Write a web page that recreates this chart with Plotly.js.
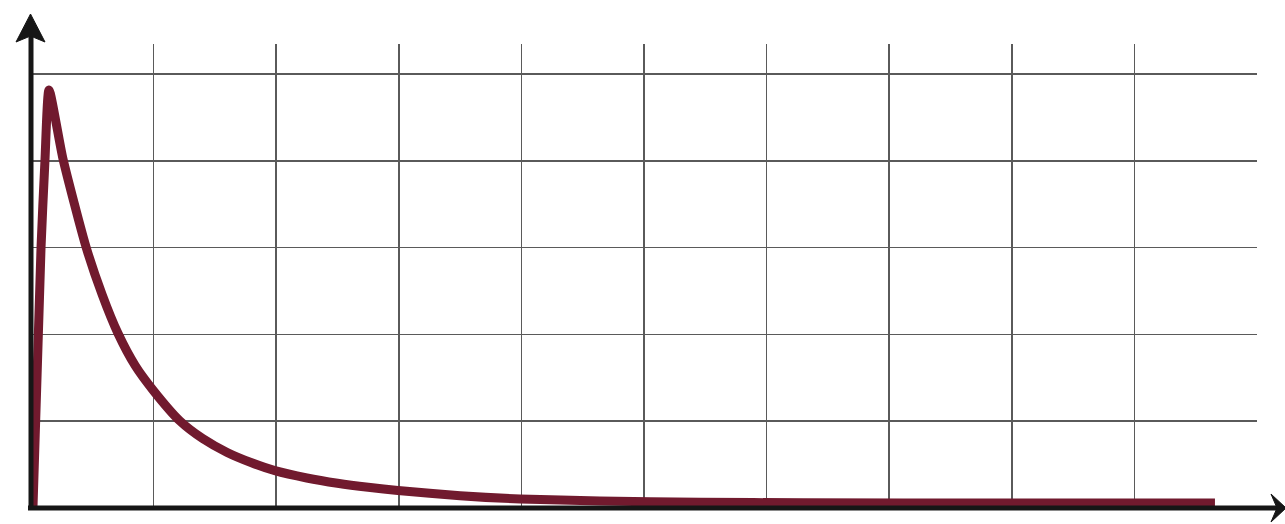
<!DOCTYPE html>
<html>
<head>
<meta charset="utf-8">
<script src="https://cdn.plot.ly/plotly-3.0.1.min.js"></script>
<style>html,body{margin:0;padding:0;background:#fff;}#chart{width:1285px;height:524px;}</style>
</head>
<body>
<div id="chart"></div>
<script>
// Curve values (x in grid units, y in grid units)
const curveX = [0.016, 0.082, 0.114, 0.147, 0.261, 0.449, 0.58, 0.71, 0.85, 1.0, 1.215, 1.4, 1.6, 1.8, 1.99, 2.25, 2.5, 2.75, 2.993, 3.5, 3.989, 4.64, 5.46, 6.3, 7.9, 9.657];
const curveY = [0.0, 3.007, 4.009, 4.816, 4.021, 3.007, 2.46, 2.01, 1.64, 1.35, 1.002, 0.80, 0.64, 0.521, 0.43, 0.346, 0.285, 0.238, 0.201, 0.142, 0.104, 0.081, 0.066, 0.060, 0.058, 0.058];
// Grid positions (no labels shown)
const xGridVals = [1, 2, 3, 4, 5, 6, 7, 8, 9];
const yGridVals = [1, 2, 3, 4, 5];

const W = 1285, H = 524;
const L = 31, R = 28, T = 44, B = 16;
const pw = W - L - R, ph = H - T - B;
// pixel -> paper helpers for the axis arrows
const px = v => (v - L) / pw;
const py = v => (H - B - v) / ph;

const axisColor = '#161616';
const shapes = [
  {type: 'line', xref: 'paper', yref: 'paper', x0: px(31), x1: px(31), y0: py(510), y1: py(32), line: {color: axisColor, width: 5}},
  {type: 'line', xref: 'paper', yref: 'paper', x0: px(28), x1: px(1278), y0: py(508), y1: py(508), line: {color: axisColor, width: 5}},
  {type: 'path', xref: 'paper', yref: 'paper',
   path: `M ${px(30.5)} ${py(14)} L ${px(45)} ${py(42)} L ${px(30.5)} ${py(36)} L ${px(16)} ${py(42)} Z`,
   fillcolor: axisColor, line: {color: axisColor, width: 1}},
  {type: 'path', xref: 'paper', yref: 'paper',
   path: `M ${px(1286)} ${py(508)} L ${px(1271)} ${py(494)} L ${px(1277)} ${py(508)} L ${px(1271)} ${py(522)} Z`,
   fillcolor: axisColor, line: {color: axisColor, width: 1}}
];

const trace = {
  x: curveX, y: curveY, type: 'scatter', mode: 'lines',
  line: {color: '#711a2e', width: 9, shape: 'spline', smoothing: 0.6},
  hoverinfo: 'skip', cliponaxis: false
};

const layout = {
  width: W, height: H,
  margin: {l: L, r: R, t: T, b: B, pad: 0},
  paper_bgcolor: '#ffffff', plot_bgcolor: '#ffffff',
  showlegend: false,
  xaxis: {range: [0, 10], tickvals: xGridVals, showticklabels: false, ticks: '',
          showgrid: true, gridcolor: '#5a5a5a', gridwidth: 1.5, zeroline: false, showline: false, fixedrange: true},
  yaxis: {range: [0, ph / 86.8], tickvals: yGridVals, showticklabels: false, ticks: '',
          showgrid: true, gridcolor: '#5a5a5a', gridwidth: 1.5, zeroline: false, showline: false, fixedrange: true},
  shapes: shapes
};

Plotly.newPlot('chart', [trace], layout, {staticPlot: true, displayModeBar: false});
</script>
</body>
</html>
